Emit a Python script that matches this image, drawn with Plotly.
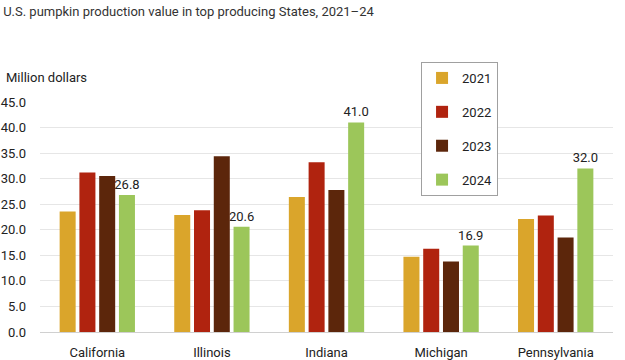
import plotly.graph_objects as go

states = ["California", "Illinois", "Indiana", "Michigan", "Pennsylvania"]
years = ["2021", "2022", "2023", "2024"]
v2021 = [23.6, 22.9, 26.4, 14.7, 22.1]
v2022 = [31.2, 23.8, 33.2, 16.3, 22.8]
v2023 = [30.5, 34.4, 27.8, 13.8, 18.5]
v2024 = [26.8, 20.6, 41.0, 16.9, 32.0]
colors = ["#DAA52B", "#B0230F", "#5C260B", "#9CC65A"]

series = [v2021, v2022, v2023, v2024]
fig = go.Figure()
for i, (yr, vals) in enumerate(zip(years, series)):
    show_text = (yr == "2024")
    fig.add_trace(go.Bar(
        x=states, y=vals, name=yr, marker_color=colors[i],
        marker_line_width=0, legendgroup=yr,
        text=[f"{v:.1f}" for v in vals] if show_text else None,
        textposition="outside" if show_text else None,
        textfont=dict(size=13, color="#222222"),
        constraintext="none",
        cliponaxis=False,
    ))

fig.update_layout(
    width=625, height=360,
    margin=dict(l=40, r=12, t=102, b=28, autoexpand=False),
    paper_bgcolor="white", plot_bgcolor="white",
    font=dict(family="Roboto", size=13, color="#333333"),
    barmode="group", bargap=0.31, bargroupgap=0.19,
    showlegend=True,
    legend=dict(x=0.665, y=1.174, xanchor="left", yanchor="top",
                bordercolor="#A0A0A0", borderwidth=1,
                font=dict(size=13, color="#222222"),
                tracegroupgap=14, itemwidth=30),
    title=dict(text="U.S. pumpkin production value in top producing States, 2021–24",
               x=0.005, xanchor="left", y=0.967, yanchor="middle", pad=dict(t=0, b=0, l=0, r=0),
               font=dict(size=13, color="#333333")),
    annotations=[dict(text="Million dollars", xref="paper", yref="paper",
                      x=-0.062, y=1.105, xanchor="left", yanchor="middle",
                      showarrow=False, font=dict(size=13, color="#222222"))],
)
fig.update_yaxes(range=[0, 45], dtick=5, tickformat=".1f", gridcolor="#E6E6E6",
                 showline=False, zeroline=False, ticks="", ticklabelstandoff=13,
                 automargin=False, tickfont=dict(size=13, color="#222222"))
fig.update_xaxes(showline=True, linecolor="#D0D0D0", ticks="", automargin=False,
                 ticklabelstandoff=8, tickfont=dict(size=13, color="#222222"))
fig.write_html("out.html", config={"displayModeBar": False, "staticPlot": True},
               post_script="document.body.style.margin='0px';document.body.style.overflow='hidden';")
